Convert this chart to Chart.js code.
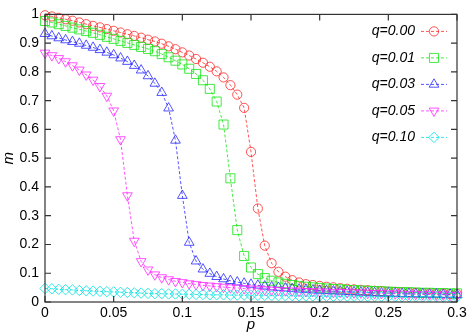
<!DOCTYPE html>
<html>
<head>
<meta charset="utf-8">
<script src="https://cdn.jsdelivr.net/npm/chart.js@4/dist/chart.umd.min.js"></script>
<style>
html,body{margin:0;padding:0;background:#fff;}
#wrap{width:475px;height:332px;position:relative;}
</style>
</head>
<body>
<div id="wrap"><canvas id="c" width="475" height="332"></canvas></div>
<script>
// ---- data ----
const pValues = [0,0.005,0.01,0.015,0.02,0.025,0.03,0.035,0.04,0.045,0.05,0.055,0.06,0.065,0.07,0.075,0.08,0.085,0.09,0.095,0.1,0.105,0.11,0.115,0.12,0.125,0.13,0.135,0.14,0.145,0.15,0.155,0.16,0.165,0.17,0.175,0.18,0.185,0.19,0.195,0.2,0.205,0.21,0.215,0.22,0.225,0.23,0.235,0.24,0.245,0.25,0.255,0.26,0.265,0.27,0.275,0.28,0.285,0.29,0.295,0.3];
const seriesLabels = ['q=0.00','q=0.01','q=0.03','q=0.05','q=0.10'];
const mQ000 = [0.997,0.993,0.988,0.983,0.978,0.972,0.966,0.960,0.955,0.949,0.943,0.937,0.931,0.925,0.919,0.912,0.906,0.898,0.889,0.879,0.868,0.857,0.845,0.832,0.818,0.802,0.781,0.754,0.721,0.675,0.522,0.325,0.196,0.135,0.105,0.088,0.076,0.068,0.062,0.059,0.056,0.053,0.051,0.048,0.046,0.044,0.042,0.041,0.039,0.038,0.036,0.035,0.034,0.033,0.032,0.031,0.030,0.030,0.029,0.028,0.028];
const mQ001 = [0.977,0.972,0.966,0.960,0.954,0.948,0.942,0.936,0.929,0.922,0.915,0.908,0.901,0.894,0.887,0.880,0.872,0.862,0.851,0.839,0.826,0.811,0.793,0.771,0.741,0.697,0.617,0.430,0.250,0.160,0.120,0.097,0.083,0.074,0.068,0.063,0.059,0.056,0.053,0.051,0.049,0.047,0.045,0.044,0.042,0.041,0.040,0.039,0.038,0.037,0.036,0.035,0.034,0.034,0.033,0.032,0.032,0.031,0.031,0.030,0.030];
const mQ003 = [0.933,0.925,0.918,0.911,0.905,0.899,0.892,0.885,0.877,0.868,0.859,0.848,0.836,0.822,0.806,0.786,0.760,0.728,0.674,0.562,0.370,0.207,0.142,0.114,0.099,0.088,0.080,0.074,0.069,0.065,0.061,0.058,0.055,0.052,0.050,0.048,0.046,0.044,0.043,0.041,0.040,0.039,0.038,0.037,0.036,0.035,0.034,0.033,0.032,0.031,0.031,0.030,0.029,0.029,0.028,0.028,0.027,0.027,0.026,0.026,0.025];
const mQ005 = [0.866,0.857,0.847,0.836,0.822,0.807,0.790,0.772,0.750,0.716,0.665,0.565,0.370,0.212,0.141,0.112,0.095,0.085,0.078,0.072,0.068,0.064,0.061,0.058,0.056,0.054,0.052,0.050,0.049,0.047,0.046,0.045,0.043,0.042,0.041,0.040,0.039,0.038,0.037,0.037,0.036,0.035,0.034,0.034,0.033,0.032,0.032,0.031,0.030,0.030,0.029,0.029,0.028,0.027,0.027,0.026,0.026,0.025,0.025,0.024,0.024];
const mQ010 = [0.047,0.046,0.044,0.043,0.042,0.040,0.039,0.038,0.037,0.036,0.035,0.034,0.033,0.032,0.031,0.030,0.029,0.029,0.028,0.028,0.027,0.027,0.026,0.026,0.025,0.025,0.025,0.024,0.024,0.024,0.023,0.023,0.023,0.022,0.022,0.022,0.022,0.021,0.021,0.021,0.021,0.020,0.020,0.020,0.020,0.020,0.019,0.019,0.019,0.019,0.019,0.019,0.018,0.018,0.018,0.018,0.018,0.018,0.017,0.017,0.017];
const xTickLabels = ['0','0.05','0.1','0.15','0.2','0.25','0.3'];
const yTickLabels = ['0','0.1','0.2','0.3','0.4','0.5','0.6','0.7','0.8','0.9','1'];

const allSeries = [mQ000, mQ001, mQ003, mQ005, mQ010];
const colors = ['rgba(255,40,40,0.8)','rgba(20,230,20,0.8)','rgba(40,40,255,0.8)','rgba(255,40,255,0.8)','rgba(0,225,225,0.8)'];
const styles = [
  {pointStyle:'circle', radius:4.6, rotation:0},
  {pointStyle:'rect', radius:6.4, rotation:0},
  {pointStyle:'triangle', radius:5.6, rotation:0},
  {pointStyle:'triangle', radius:5.6, rotation:180},
  {pointStyle:'rectRot', radius:5.2, rotation:0}
];

const datasets = allSeries.map((arr, i) => ({
  label: seriesLabels[i],
  data: arr.map((v, j) => ({x: pValues[j], y: v})),
  borderColor: colors[i],
  backgroundColor: 'rgba(0,0,0,0)',
  borderWidth: 1,
  borderDash: [3, 2],
  pointStyle: styles[i].pointStyle,
  pointRadius: styles[i].radius,
  pointRotation: styles[i].rotation,
  pointBorderColor: colors[i],
  pointBorderWidth: 1,
  pointBackgroundColor: 'rgba(0,0,0,0)',
  tension: 0,
  clip: false,
  order: 4 - i
}));

const FONT = '"Liberation Sans", Arial, Helvetica, sans-serif';

const framePlugin = {
  id: 'frame',
  afterDraw(chart) {
    const ctx = chart.ctx;
    const a = chart.chartArea;
    const xs = chart.scales.x, ys = chart.scales.y;
    ctx.save();
    ctx.strokeStyle = '#333';
    ctx.lineWidth = 1.2;
    ctx.setLineDash([]);
    ctx.strokeRect(a.left, a.top, a.right - a.left, a.bottom - a.top);
    const tl = 6;
    ctx.beginPath();
    xTickLabels.forEach(t => {
      const px = xs.getPixelForValue(parseFloat(t));
      ctx.moveTo(px, a.bottom); ctx.lineTo(px, a.bottom - tl);
      ctx.moveTo(px, a.top); ctx.lineTo(px, a.top + tl);
    });
    yTickLabels.forEach(t => {
      const py = ys.getPixelForValue(parseFloat(t));
      ctx.moveTo(a.left, py); ctx.lineTo(a.left + tl, py);
      ctx.moveTo(a.right, py); ctx.lineTo(a.right - tl, py);
    });
    ctx.stroke();

    // legend (gnuplot-like, top-right)
    ctx.font = 'italic 14px ' + FONT;
    ctx.textAlign = 'right';
    ctx.textBaseline = 'middle';
    const textRight = a.right - 42;
    const lineL = a.right - 36, lineR = a.right - 10;
    chart.data.datasets.forEach((ds, i) => {
      const y = a.top + 17 + i * 26.5;
      ctx.fillStyle = '#000';
      ctx.fillText(ds.label, textRight, y);
      ctx.strokeStyle = ds.borderColor;
      ctx.lineWidth = 1;
      ctx.setLineDash([3, 2]);
      ctx.beginPath(); ctx.moveTo(lineL, y); ctx.lineTo(lineR, y); ctx.stroke();
      ctx.setLineDash([]);
      ctx.fillStyle = 'rgba(0,0,0,0)';
      Chart.helpers.drawPoint(ctx, {pointStyle: ds.pointStyle, radius: ds.pointRadius, rotation: ds.pointRotation, borderWidth: 1}, (lineL + lineR) / 2, y);
    });
    ctx.restore();
  }
};

new Chart(document.getElementById('c'), {
  type: 'line',
  data: { datasets },
  options: {
    responsive: false,
    animation: false,
    layout: { padding: { top: 11, right: 18, left: 0, bottom: 0 } },
    plugins: { legend: { display: false }, tooltip: { enabled: false } },
    scales: {
      x: {
        type: 'linear', min: 0, max: 0.3,
        afterBuildTicks: s => { s.ticks = xTickLabels.map(t => ({value: parseFloat(t)})); },
        afterFit: s => { s.height = 30; },
        grid: { display: false, drawTicks: false },
        border: { display: false },
        ticks: { color: '#000', font: { family: FONT, size: 14 }, padding: 3, maxRotation: 0, autoSkip: false,
                 callback: (v, i) => xTickLabels[i] },
        title: { display: true, text: 'p', color: '#000', font: { family: FONT, size: 15, style: 'italic' }, padding: { top: 0, bottom: -2 } }
      },
      y: {
        type: 'linear', min: 0, max: 1,
        afterBuildTicks: s => { s.ticks = yTickLabels.map(t => ({value: parseFloat(t)})); },
        afterFit: s => { s.width = 45; },
        grid: { display: false, drawTicks: false },
        border: { display: false },
        ticks: { color: '#000', font: { family: FONT, size: 14 }, padding: 6, autoSkip: false,
                 callback: (v, i) => yTickLabels[i] },
        title: { display: true, text: 'm', color: '#000', font: { family: FONT, size: 15, style: 'italic' }, padding: { top: 0, bottom: 0 } }
      }
    }
  },
  plugins: [framePlugin]
});
</script>
</body>
</html>
